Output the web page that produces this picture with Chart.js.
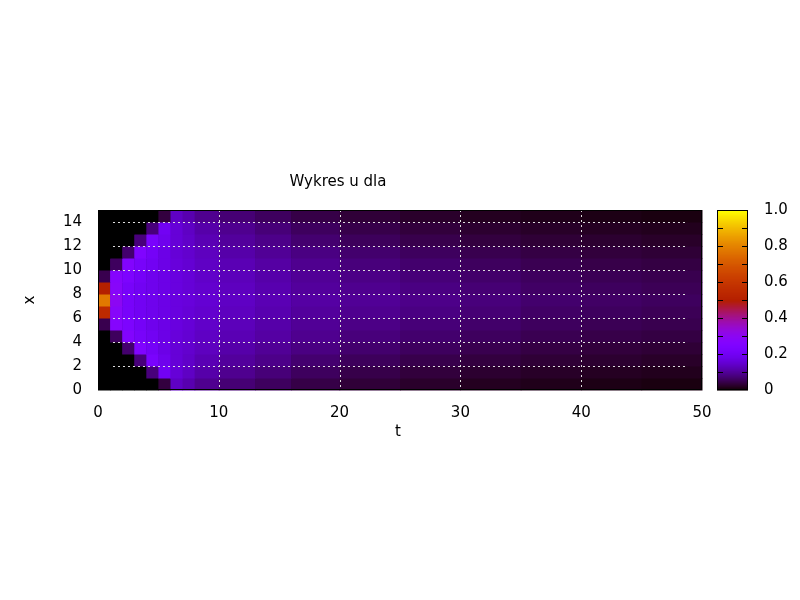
<!DOCTYPE html>
<html>
<head>
<meta charset="utf-8">
<script src="https://cdn.jsdelivr.net/npm/chart.js@4"></script>
<style>body{margin:0;background:#fff}</style>
</head>
<body>
<canvas id="wykres" width="800" height="600"></canvas>
<script>
// granice komórek w t i x
const tEdges = [0,1,2,3,4,5,6,7,8,10,13,16,20,25,30,35,40,45,50];
const xEdges = [0,1,2,3,4,5,6,7,8,9,10,11,12,13,14,15];
const xTicks = [0,2,4,6,8,10,12,14];
const tTicks = [0,10,20,30,40,50];
const cbTicks = [0,0.1,0.2,0.3,0.4,0.5,0.6,0.7,0.8,0.9,1];

// wartości u, wiersz = pas x (od x=0 w górę), kolumna = pas t
const u00 = [0,0,0,0,0,0.04,0.14,0.12,0.095,0.075,0.06,0.045,0.035,0.027,0.02,0.016,0.013,0.01];
const u01 = [0,0,0,0,0.08,0.2,0.16,0.14,0.115,0.095,0.078,0.06,0.047,0.038,0.03,0.025,0.021,0.018];
const u02 = [0,0,0,0.08,0.23,0.19,0.16,0.145,0.125,0.105,0.09,0.072,0.058,0.048,0.04,0.034,0.03,0.026];
const u03 = [0,0,0.07,0.25,0.21,0.18,0.16,0.15,0.135,0.115,0.1,0.085,0.07,0.06,0.05,0.043,0.038,0.034];
const u04 = [0,0.06,0.26,0.22,0.2,0.18,0.165,0.155,0.14,0.125,0.11,0.095,0.08,0.07,0.06,0.052,0.046,0.042];
const u05 = [0.05,0.27,0.24,0.21,0.19,0.18,0.17,0.16,0.145,0.13,0.115,0.1,0.088,0.078,0.068,0.06,0.054,0.05];
const u06 = [0.55,0.28,0.22,0.2,0.19,0.18,0.17,0.16,0.15,0.135,0.12,0.105,0.095,0.085,0.075,0.065,0.06,0.055];
const u07 = [0.78,0.3,0.22,0.2,0.19,0.18,0.17,0.165,0.155,0.14,0.125,0.11,0.1,0.09,0.08,0.07,0.065,0.06];
const u08 = [0.5,0.28,0.22,0.2,0.19,0.18,0.17,0.16,0.15,0.135,0.12,0.105,0.095,0.085,0.075,0.065,0.06,0.055];
const u09 = [0.05,0.27,0.24,0.21,0.19,0.18,0.17,0.16,0.145,0.13,0.115,0.1,0.088,0.078,0.068,0.06,0.054,0.05];
const u10 = [0,0.06,0.26,0.22,0.2,0.18,0.165,0.155,0.14,0.125,0.11,0.095,0.08,0.07,0.06,0.052,0.046,0.042];
const u11 = [0,0,0.07,0.25,0.21,0.18,0.16,0.15,0.135,0.115,0.1,0.085,0.07,0.06,0.05,0.043,0.038,0.034];
const u12 = [0,0,0,0.08,0.23,0.19,0.16,0.145,0.125,0.105,0.09,0.072,0.058,0.048,0.04,0.034,0.03,0.026];
const u13 = [0,0,0,0,0.08,0.2,0.16,0.14,0.115,0.095,0.078,0.06,0.047,0.038,0.03,0.025,0.021,0.018];
const u14 = [0,0,0,0,0,0.04,0.14,0.12,0.095,0.075,0.06,0.045,0.035,0.027,0.02,0.016,0.013,0.01];
const uRows = [u00,u01,u02,u03,u04,u05,u06,u07,u08,u09,u10,u11,u12,u13,u14];

const FONT = '"DejaVu Sans", sans-serif';

// domyślna paleta gnuplota (7,5,15)
function kolor(g) {
  g = Math.max(0, Math.min(1, g));
  const r = Math.sqrt(g), gr = g * g * g, b = Math.max(0, Math.sin(2 * Math.PI * g));
  return 'rgb(' + Math.round(r * 255) + ',' + Math.round(gr * 255) + ',' + Math.round(b * 255) + ')';
}

const heatmap = {
  id: 'heatmap',
  beforeDatasetsDraw(chart) {
    const ctx = chart.ctx, sx = chart.scales.x, sy = chart.scales.y, a = chart.chartArea;
    ctx.save();
    ctx.fillStyle = '#000';
    ctx.fillRect(a.left, a.top, a.right - a.left, a.bottom - a.top);
    uRows.forEach((row, j) => {
      const y0 = sy.getPixelForValue(xEdges[j]), y1 = sy.getPixelForValue(xEdges[j + 1]);
      row.forEach((v, i) => {
        const x0 = sx.getPixelForValue(tEdges[i]), x1 = sx.getPixelForValue(tEdges[i + 1]);
        ctx.fillStyle = kolor(v);
        ctx.fillRect(x0, y1, x1 - x0 + 0.5, y0 - y1 + 0.5);
      });
    });
    ctx.restore();
  },
  afterDatasetsDraw(chart) {
    const ctx = chart.ctx, sx = chart.scales.x, sy = chart.scales.y, sc = chart.scales.cb, a = chart.chartArea;
    ctx.save();
    // siatka
    ctx.strokeStyle = '#ddd';
    ctx.lineWidth = 1;
    ctx.setLineDash([2, 3]);
    tTicks.slice(1, -1).forEach(t => {
      const p = Math.round(sx.getPixelForValue(t)) + 0.5;
      ctx.beginPath(); ctx.moveTo(p, a.top); ctx.lineTo(p, a.bottom); ctx.stroke();
    });
    xTicks.slice(1).forEach(x => {
      const p = Math.round(sy.getPixelForValue(x)) + 0.5;
      ctx.beginPath(); ctx.moveTo(a.left + 15, p); ctx.lineTo(a.right - 15, p); ctx.stroke();
    });
    ctx.setLineDash([]);
    ctx.strokeStyle = '#000';
    ctx.strokeRect(a.left + 0.5, a.top + 0.5, a.right - a.left - 1, a.bottom - a.top - 1);
    // pasek kolorów
    const bx = a.right + 15, bw = 31;
    for (let k = 0; k < 180; k++) {
      const y = sc.getPixelForValue(k / 180), y2 = sc.getPixelForValue((k + 1) / 180);
      ctx.fillStyle = kolor((k + 0.5) / 180);
      ctx.fillRect(bx, y2, bw, y - y2 + 0.6);
    }
    ctx.strokeStyle = '#000';
    ctx.strokeRect(bx + 0.5, a.top + 0.5, bw - 1, a.bottom - a.top - 1);
    cbTicks.slice(1, -1).forEach(v => {
      const p = Math.round(sc.getPixelForValue(v)) + 0.5;
      ctx.beginPath(); ctx.moveTo(bx, p); ctx.lineTo(bx + 6, p); ctx.moveTo(bx + bw - 6, p); ctx.lineTo(bx + bw, p); ctx.stroke();
    });
    // napisy
    ctx.fillStyle = '#000';
    ctx.font = '15px ' + FONT;
    ctx.textAlign = 'center';
    ctx.textBaseline = 'middle';
    ctx.fillText('Wykres u dla', 338, 182);
    ctx.fillText('t', 398, 432);
    ctx.translate(30, 300);
    ctx.rotate(-Math.PI / 2);
    ctx.fillText('x', 0, 0);
    ctx.restore();
  }
};

new Chart(document.getElementById('wykres'), {
  type: 'scatter',
  data: { datasets: [{ data: [] }] },
  options: {
    responsive: false,
    animation: false,
    layout: { padding: { top: 210, bottom: 150, left: 0, right: 0 } },
    plugins: { legend: { display: false }, tooltip: { enabled: false } },
    scales: {
      x: {
        type: 'linear', min: 0, max: 50,
        afterFit(s) { s.height = 60; },
        afterBuildTicks(s) { s.ticks = tTicks.map(v => ({ value: v })); },
        grid: { display: false }, border: { display: false },
        ticks: { color: '#000', font: { size: 15, family: FONT }, padding: 6 }
      },
      y: {
        type: 'linear', min: 0, max: 15,
        afterFit(s) { s.width = 98; },
        afterBuildTicks(s) { s.ticks = xTicks.map(v => ({ value: v })); },
        grid: { display: false }, border: { display: false },
        ticks: { color: '#000', font: { size: 15, family: FONT }, padding: 8 }
      },
      cb: {
        type: 'linear', position: 'right', min: 0, max: 1,
        afterFit(s) { s.width = 98; },
        afterBuildTicks(s) { s.ticks = cbTicks.map(v => ({ value: v })); },
        grid: { display: false, drawTicks: false }, border: { display: false },
        ticks: { color: '#000', font: { size: 15, family: FONT }, padding: 62 }
      }
    }
  },
  plugins: [heatmap]
});
</script>
</body>
</html>
